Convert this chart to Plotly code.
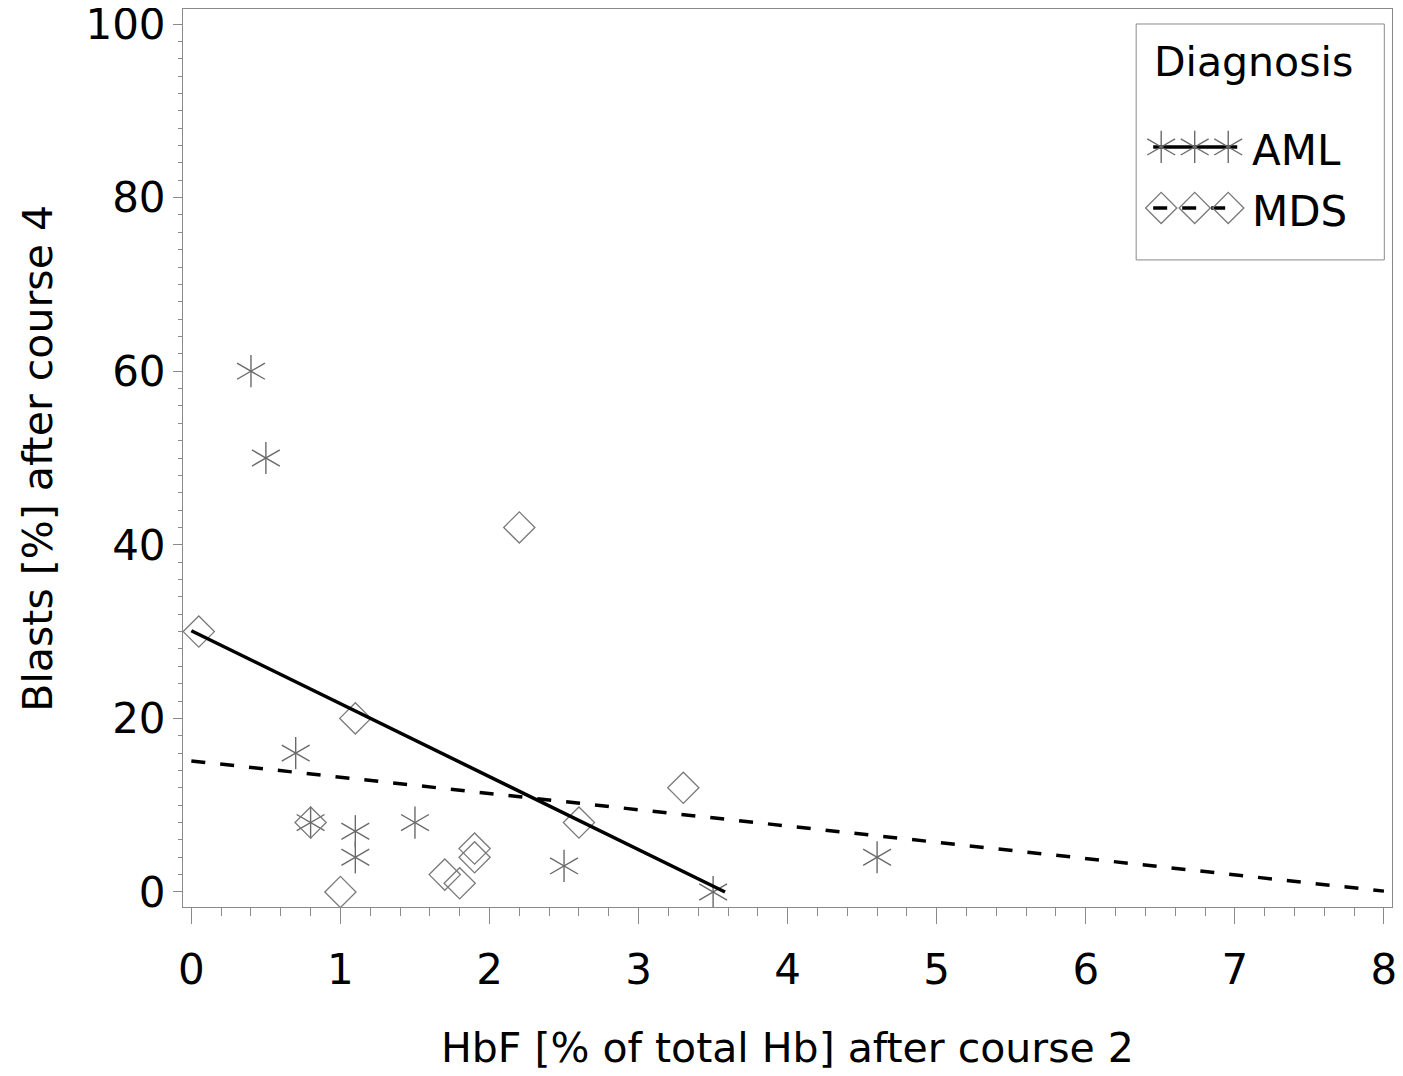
import plotly.graph_objects as go

# ---- data ----
aml_x = [0.4, 0.5, 0.7, 0.8, 1.1, 1.1, 1.5, 2.5, 3.5, 4.6]
aml_y = [60, 50, 16, 8, 7, 4, 8, 3, 0, 4]
mds_x = [0.05, 0.8, 1.0, 1.1, 1.7, 1.8, 1.9, 1.9, 2.2, 2.6, 3.3]
mds_y = [30, 8, 0, 20, 2, 1, 5, 4, 42, 8, 12]
aml_fit_x = [0.0, 3.58]
aml_fit_y = [30.1, 0.0]
mds_fit_x = [0.0, 8.0]
mds_fit_y = [15.1, 0.1]
x_ticks = [0, 1, 2, 3, 4, 5, 6, 7, 8]
y_ticks = [0, 20, 40, 60, 80, 100]
legend_title = "Diagnosis"
legend_names = ["AML", "MDS"]

FONT = "DejaVu Sans"
STAR_C = "#6a6a6a"
DIA_C = "#7a7a7a"
AXIS_C = "#8a8a8a"

# the page body has an 8px default margin; size the figure to compensate
PAGE_OFF = 8

fig = go.Figure()

# AML stars: three rotated line segments -> six-armed asterisk
for ang in (0, 60, -60):
    fig.add_trace(go.Scatter(
        x=aml_x, y=aml_y, mode="markers", showlegend=False,
        marker=dict(symbol="line-ns-open", size=23, angle=ang, color=STAR_C,
                    line=dict(width=1.4, color=STAR_C)),
        hoverinfo="x+y"))

# MDS diamonds
fig.add_trace(go.Scatter(
    x=mds_x, y=mds_y, mode="markers", showlegend=False,
    marker=dict(symbol="diamond-open", size=24, color=DIA_C,
                line=dict(width=1.3, color=DIA_C)),
    hoverinfo="x+y"))

# regression lines
fig.add_trace(go.Scatter(x=aml_fit_x, y=aml_fit_y, mode="lines", showlegend=False,
                         line=dict(color="black", width=3.5)))
fig.add_trace(go.Scatter(x=mds_fit_x, y=mds_fit_y, mode="lines", showlegend=False,
                         line=dict(color="black", width=3.5, dash="14px,15px")))

# ---- manual legend on a hidden pixel-space overlay axis (page pixels) ----
LX = [1161, 1194.5, 1228]          # symbol positions
ROW_Y = [147, 208]
fig.add_trace(go.Scatter(x=[1153, 1237], y=[ROW_Y[0]] * 2, xaxis="x2", yaxis="y2",
                         mode="lines", showlegend=False, hoverinfo="skip",
                         line=dict(color="black", width=3.5)))
for ang in (0, 60, -60):
    fig.add_trace(go.Scatter(x=LX, y=[ROW_Y[0]] * 3, xaxis="x2", yaxis="y2",
                             mode="markers", showlegend=False, hoverinfo="skip",
                             marker=dict(symbol="line-ns-open", size=23, angle=ang,
                                         color=STAR_C, line=dict(width=1.4, color=STAR_C))))
fig.add_trace(go.Scatter(x=[1153, 1237], y=[ROW_Y[1]] * 2, xaxis="x2", yaxis="y2",
                         mode="lines", showlegend=False, hoverinfo="skip",
                         line=dict(color="black", width=3.5, dash="14px,15px")))
fig.add_trace(go.Scatter(x=LX, y=[ROW_Y[1]] * 3, xaxis="x2", yaxis="y2",
                         mode="markers", showlegend=False, hoverinfo="skip",
                         marker=dict(symbol="diamond-open", size=24, color=DIA_C,
                                     line=dict(width=1.3, color=DIA_C))))

fig.add_shape(type="rect", xref="x2", yref="y2", x0=1136, x1=1384, y0=24, y1=260,
              line=dict(color=AXIS_C, width=1), fillcolor="rgba(0,0,0,0)", layer="below")

annotations = [
    dict(text=legend_title, xref="x2", yref="y2", x=1253.5, y=62, xanchor="center",
         yanchor="middle", showarrow=False, font=dict(family=FONT, size=41, color="black")),
    dict(text=legend_names[0], xref="x2", yref="y2", x=1250, y=151, xanchor="left",
         yanchor="middle", showarrow=False, font=dict(family=FONT, size=42, color="black")),
    dict(text=legend_names[1], xref="x2", yref="y2", x=1250, y=212, xanchor="left",
         yanchor="middle", showarrow=False, font=dict(family=FONT, size=42, color="black")),
    dict(text="HbF [% of total Hb] after course 2", xref="paper", yref="paper",
         x=0.5, y=-0.1566, xanchor="center", yanchor="middle", showarrow=False,
         font=dict(family=FONT, size=41, color="black")),
    dict(text="Blasts [%] after course 4", xref="paper", yref="paper",
         x=-0.1202, y=0.5, xanchor="center", yanchor="middle", textangle=-90,
         showarrow=False, font=dict(family=FONT, size=41, color="black")),
]

# plot area in page pixels: left 183.3, right 1391.7, top 9, bottom 907.3
fig.update_layout(
    width=1403 - PAGE_OFF, height=1076 - PAGE_OFF,
    margin=dict(l=183.3 - PAGE_OFF, r=11.3, t=9 - PAGE_OFF, b=1076 - 907.3, pad=0,
                autoexpand=False),
    paper_bgcolor="white", plot_bgcolor="white",
    font=dict(family=FONT, color="black"),
    showlegend=False,
    annotations=annotations,
    xaxis=dict(range=[-0.056, 8.054], tickmode="array", tickvals=x_ticks,
               ticktext=[str(v) for v in x_ticks], automargin=False,
               ticklabeloverflow="allow",
               showgrid=False, zeroline=False, showline=True, mirror=True,
               linecolor=AXIS_C, linewidth=1, ticks="outside", ticklen=16,
               tickcolor=AXIS_C, tickwidth=1,
               tickfont=dict(family=FONT, size=42, color="black"),
               ticklabelstandoff=10,
               minor=dict(ticks="outside", ticklen=8, dtick=0.2, tick0=0,
                          tickcolor=AXIS_C, tickwidth=1, showgrid=False)),
    yaxis=dict(range=[-1.73, 101.73], tickmode="array", tickvals=y_ticks,
               ticktext=[str(v) for v in y_ticks], automargin=False,
               ticklabeloverflow="allow",
               showgrid=False, zeroline=False, showline=True, mirror=True,
               linecolor=AXIS_C, linewidth=1, ticks="outside", ticklen=9,
               tickcolor=AXIS_C, tickwidth=1,
               tickfont=dict(family=FONT, size=42, color="black"),
               ticklabelstandoff=-1,
               minor=dict(ticks="outside", ticklen=4.5, dtick=2, tick0=0,
                          tickcolor=AXIS_C, tickwidth=1, showgrid=False)),
    xaxis2=dict(overlaying="x", anchor="y2", range=[183.3, 1391.7], visible=False,
                fixedrange=True, automargin=False),
    yaxis2=dict(overlaying="y", anchor="x2", range=[907.3, 9], visible=False,
                fixedrange=True, automargin=False),
)

fig.write_html("out.html")
